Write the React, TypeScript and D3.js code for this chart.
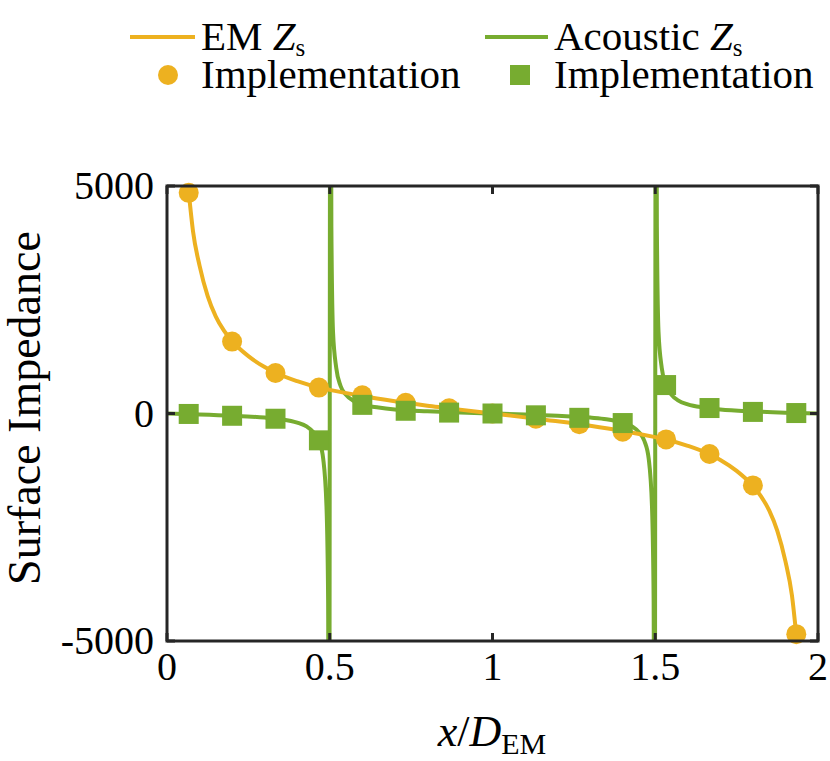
import React from "react";
import * as d3 from "d3";

// ---- data ----
const xTicks = [0, 0.5, 1, 1.5, 2];
const xTickLabels = ["0", "0.5", "1", "1.5", "2"];
const yTicks = [-5000, 0, 5000];
const yTickLabels = ["-5000", "0", "5000"];

const emX = [0.067, 0.08, 0.1, 0.125, 0.15, 0.175, 0.2, 0.25, 0.3, 0.333, 0.4, 0.467, 0.5, 0.6, 0.7, 0.733, 0.8, 0.867, 0.9, 1.0,
  1.1, 1.133, 1.2, 1.267, 1.3, 1.4, 1.5, 1.533, 1.6, 1.667, 1.7, 1.75, 1.8, 1.825, 1.85, 1.875, 1.9, 1.92, 1.933];
const emY = [4850, 4000, 3250, 2580, 2130, 1820, 1590, 1260, 1020, 895, 710, 570, 520, 385, 270, 235, 170, 115, 85, 0,
  -85, -115, -170, -235, -270, -385, -520, -570, -710, -895, -1020, -1260, -1590, -1820, -2130, -2580, -3250, -4000, -4850];

const acX = [0, 0.1, 0.2, 0.3, 0.35, 0.4, 0.43, 0.45, 0.467, 0.48, 0.49, 0.495, 0.498,
  0.502, 0.505, 0.51, 0.52, 0.533, 0.55, 0.57, 0.6, 0.65, 0.7, 0.8, 0.9, 1.0,
  1.1, 1.2, 1.3, 1.35, 1.4, 1.43, 1.45, 1.467, 1.48, 1.49, 1.495, 1.498,
  1.502, 1.505, 1.51, 1.52, 1.533, 1.55, 1.57, 1.6, 1.65, 1.7, 1.8, 1.9, 2.0];
const acY = [0, -20, -48, -90, -125, -200, -290, -410, -600, -1000, -2050, -4100, -12000,
  12000, 4100, 1800, 1000, 610, 410, 290, 195, 130, 88, 48, 20, 0,
  -20, -48, -90, -125, -205, -290, -410, -610, -1000, -2050, -4100, -12000,
  12000, 4100, 1800, 1000, 620, 410, 290, 200, 130, 88, 45, 18, 0];

const markerX = [0.0667, 0.2, 0.3333, 0.4667, 0.6, 0.7333, 0.8667, 1.0, 1.1333, 1.2667, 1.4, 1.5333, 1.6667, 1.8, 1.9333];
const emMarkers = [4850, 1580, 890, 570, 400, 235, 115, 0, -115, -235, -400, -570, -890, -1580, -4850];
const acMarkers = [-10, -50, -115, -590, 190, 60, 20, 0, -40, -95, -210, 625, 120, 35, 10];

const EM_COLOR = "#EDB120";
const AC_COLOR = "#77AC30";
const AXIS_COLOR = "#262626";
const FONT = "Liberation Serif, DejaVu Serif, Times New Roman, serif";

export default function App() {
  const W = 830, H = 761;
  const L = 167, R = 818, T = 186, B = 641;
  const x = d3.scaleLinear().domain([0, 2]).range([L, R]);
  const y = d3.scaleLinear().domain([-5000, 5000]).range([B, T]);

  const line = d3.line<[number, number]>()
    .x(d => x(d[0]))
    .y(d => y(d[1]))
    .curve(d3.curveMonotoneX);

  const emPath = line(emX.map((v, i) => [v, emY[i]] as [number, number])) || "";
  const acPath = line(acX.map((v, i) => [v, acY[i]] as [number, number])) || "";

  const tickLen = 8;
  const sq = 20;

  return (
    <svg width={W} height={H} style={{ position: "absolute", left: 0, top: 0, background: "#fff", fontFamily: FONT }}>
      <defs>
        <clipPath id="plotclip">
          <rect x={L} y={T} width={R - L} height={B - T} />
        </clipPath>
      </defs>

      {/* legend */}
      <g fill="#000" fontSize={41} style={{ fontFamily: FONT }}>
        <line x1={130} x2={195} y1={37} y2={37} stroke={EM_COLOR} strokeWidth={4} />
        <text x={201} y={50}>EM <tspan fontStyle="italic">Z</tspan><tspan fontSize={25} dy={6}>s</tspan></text>
        <line x1={485} x2={548} y1={37} y2={37} stroke={AC_COLOR} strokeWidth={4} />
        <text x={554} y={50}>Acoustic <tspan fontStyle="italic">Z</tspan><tspan fontSize={25} dy={6}>s</tspan></text>
        <circle cx={168} cy={75} r={10} fill={EM_COLOR} />
        <text x={201} y={88}>Implementation</text>
        <rect x={520 - 10} y={75 - 10} width={20} height={20} fill={AC_COLOR} />
        <text x={554} y={88}>Implementation</text>
      </g>

      {/* data */}
      <g clipPath="url(#plotclip)">
        <path d={acPath} fill="none" stroke={AC_COLOR} strokeWidth={4} />
        <path d={emPath} fill="none" stroke={EM_COLOR} strokeWidth={4} />
      </g>
      <g>
        {markerX.map((mx, i) => (
          <circle key={"c" + i} cx={x(mx)} cy={y(emMarkers[i])} r={10} fill={EM_COLOR} />
        ))}
        {markerX.map((mx, i) => (
          <rect key={"s" + i} x={x(mx) - sq / 2} y={y(acMarkers[i]) - sq / 2} width={sq} height={sq} fill={AC_COLOR} />
        ))}
      </g>

      {/* axes box and ticks */}
      <g stroke={AXIS_COLOR} strokeWidth={3} fill="none">
        <rect x={L} y={T} width={R - L} height={B - T} />
        {xTicks.map((t, i) => (
          <g key={"xt" + i}>
            <line x1={x(t)} x2={x(t)} y1={B} y2={B - tickLen} />
            <line x1={x(t)} x2={x(t)} y1={T} y2={T + tickLen} />
          </g>
        ))}
        {yTicks.map((t, i) => (
          <g key={"yt" + i}>
            <line x1={L} x2={L + tickLen} y1={y(t)} y2={y(t)} />
            <line x1={R} x2={R - tickLen} y1={y(t)} y2={y(t)} />
          </g>
        ))}
      </g>

      {/* tick labels */}
      <g fill="#000" fontSize={40} style={{ fontFamily: FONT }}>
        {xTicks.map((t, i) => (
          <text key={"xl" + i} x={x(t)} y={680} textAnchor="middle">{xTickLabels[i]}</text>
        ))}
        {yTicks.map((t, i) => (
          <text key={"yl" + i} x={154} y={y(t) + 13} textAnchor="end">{yTickLabels[i]}</text>
        ))}
      </g>

      {/* axis labels */}
      <text x={492} y={746} textAnchor="middle" fontSize={44} fill="#000" style={{ fontFamily: FONT }}>
        <tspan fontStyle="italic">x</tspan>/<tspan fontStyle="italic">D</tspan><tspan fontSize={30} dy={8}>EM</tspan>
      </text>
      <text transform={`translate(40,408) rotate(-90)`} textAnchor="middle" fontSize={46} fill="#000" style={{ fontFamily: FONT }}>
        Surface Impedance
      </text>
    </svg>
  );
}
